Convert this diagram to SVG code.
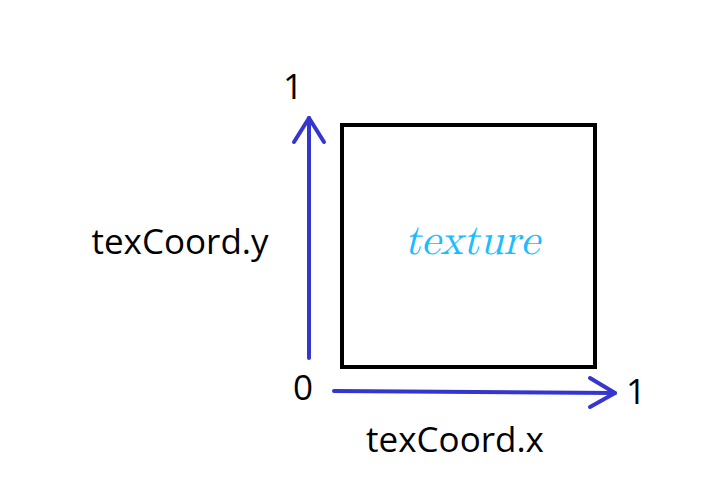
<svg xmlns="http://www.w3.org/2000/svg" width="704" height="495" viewBox="0 0 704 495">
<style>
.lbl{font-family:"Open Sans","Noto Sans",sans-serif;font-size:35px;fill:#000}
.ax{stroke:#3535cf;stroke-width:4;fill:none;stroke-linecap:round;stroke-linejoin:round}
</style>
<rect width="704" height="495" fill="#fff"/>
<g id="texture">
<rect x="342" y="125" width="253" height="242" fill="none" stroke="#000" stroke-width="4"/>
<text x="472" y="254" text-anchor="middle" font-family="'Latin Modern Math','DejaVu Serif','Liberation Serif',serif" font-style="italic" font-size="43" fill="#1cbcff">texture</text>
</g>
<g id="connectors">
<path class="ax" d="M309 358 L309 118"/>
<path class="ax" d="M294 142 L309 118 L324 142"/>
<path class="ax" d="M334 391 L615 393"/>
<path class="ax" d="M590 378 L615 393 L590 407"/>
</g>
<g id="labels">
<text class="lbl" x="293" y="99" text-anchor="middle">1</text>
<text class="lbl" x="303" y="400" text-anchor="middle">0</text>
<text class="lbl" x="636" y="404" text-anchor="middle">1</text>
<text class="lbl" x="180" y="254" text-anchor="middle">texCoord.y</text>
<text class="lbl" x="455" y="452" text-anchor="middle">texCoord.x</text>
</g>
</svg>
